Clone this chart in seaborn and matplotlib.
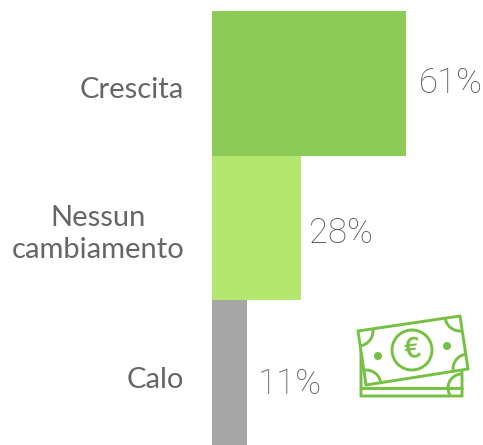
import numpy as np
import pandas as pd
import seaborn as sns
import matplotlib.pyplot as plt
from matplotlib.patches import Circle, Polygon
from matplotlib.transforms import ScaledTranslation

categorie = ["Crescita", "Nessun\ncambiamento", "Calo"]
valori = [61, 28, 11]
colori = ["#8ccb57", "#b5e670", "#a6a6a6"]

W, H = 483, 445
VERDE = "#76c043"
GRIGIO = "#666666"

sns.set_theme(style="white")
plt.rcParams["font.family"] = ["Lato", "DejaVu Sans"]

fig = plt.figure(figsize=(W / 100, H / 100), dpi=100)
ax = fig.add_axes([212 / W, 0, (W - 212) / W, (H - 11) / H])

df = pd.DataFrame({"categoria": categorie, "valore": valori})
sns.barplot(data=df, x="valore", y="categoria", hue="categoria", palette=colori,
            width=1, saturation=1, legend=False, linewidth=0, ax=ax)
ax.set_xlim(0, (W - 212) / 3.18)
ax.set_ylim(2.5, -0.5)
ax.set_xlabel("")
ax.set_ylabel("")
ax.set_xticks([])
sns.despine(ax=ax, left=True, bottom=True)
ax.tick_params(axis="y", length=0, pad=20)
scarti_y = [-3, 0, -3.5]
for lab, dy in zip(ax.get_yticklabels(), scarti_y):
    lab.set_fontsize(21)
    lab.set_color(GRIGIO)
    lab.set_multialignment("center")
    lab.set_linespacing(1.3)
    lab.set_transform(lab.get_transform() + ScaledTranslation(0, dy / 72, fig.dpi_scale_trans))

# etichette percentuali, scostate a mano come nell'originale
scarti = [(9.5, 0), (6, -4), (7.5, -8)]
for i, (v, sc) in enumerate(zip(valori, scarti)):
    ax.annotate(f"{v}%", (v, i), textcoords="offset points", xytext=sc,
                ha="left", va="center", fontsize=25, fontweight="light",
                family="Roboto", color="#5c5c5c")

# icona banconote, in coordinate pixel
ic = fig.add_axes([0, 0, 1, 1], zorder=5)
ic.set_xlim(0, W)
ic.set_ylim(H, 0)
ic.axis("off")
lw = 2.1

retro = Polygon([(361, 345), (361, 396), (462, 396), (462, 360)], closed=True,
                fill=False, ec=VERDE, lw=lw)
ic.add_patch(retro)
ic.plot([361, 462], [388, 388], color=VERDE, lw=lw)
arco = Circle((462, 388), 14, fill=False, ec=VERDE, lw=lw)
ic.add_patch(arco)
arco.set_clip_path(retro)

angoli = [(358, 331), (460, 316), (468, 369), (366, 385)]
fronte = Polygon(angoli, closed=True, fc="white", ec=VERDE, lw=lw, zorder=3)
ic.add_patch(fronte)
for c in angoli:
    p = Circle(c, 15, fill=False, ec=VERDE, lw=lw, zorder=4)
    ic.add_patch(p)
    p.set_clip_path(fronte)
ic.add_patch(Circle((412, 350), 20, fill=False, ec=VERDE, lw=lw, zorder=4))
ic.add_patch(Circle((378, 356), 4, fc=VERDE, ec="none", zorder=4))
ic.add_patch(Circle((447, 346), 4, fc=VERDE, ec="none", zorder=4))
ic.text(412, 350, "€", ha="center", va="center", fontsize=20, fontweight="bold",
        color=VERDE, zorder=4, rotation=8)

fig.savefig("out.png", dpi=100)
